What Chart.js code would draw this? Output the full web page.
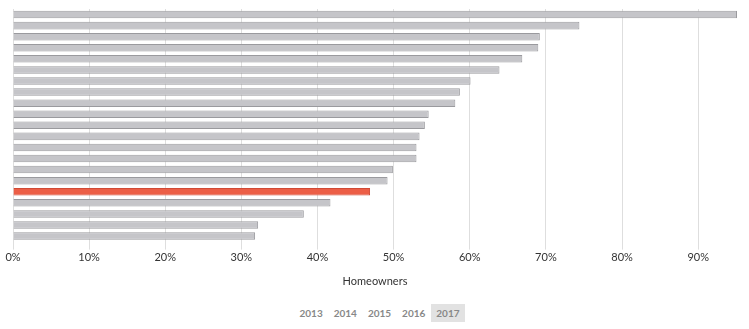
<!DOCTYPE html>
<html>
<head>
<meta charset="utf-8">
<script src="https://cdn.jsdelivr.net/npm/chart.js@4/dist/chart.umd.min.js"></script>
<style>
  body { margin: 0; background: #fff; font-family: Lato, "Open Sans", sans-serif; }
  #wrap { position: relative; width: 749px; height: 290px; }
  #years { position: absolute; left: 294px; top: 304px; font-size: 10px; font-weight: bold; color: #888; white-space: nowrap; }
  #years span { display: inline-block; padding: 0 5.5px; height: 18px; line-height: 18px; }
  #years span.on { background: #e2e2e2; }
</style>
</head>
<body>
<div id="wrap"><canvas id="chart"></canvas></div>
<div id="years"><span>2013</span><span>2014</span><span>2015</span><span>2016</span><span class="on">2017</span></div>
<script>
// categories aren't labelled in the picture, so generic names
var categories = ['Area 1', 'Area 2', 'Area 3', 'Area 4', 'Area 5', 'Area 6', 'Area 7',
  'Area 8', 'Area 9', 'Area 10', 'Area 11', 'Area 12', 'Area 13', 'Area 14',
  'Area 15', 'Area 16', 'Area 17', 'Area 18', 'Area 19', 'Area 20', 'Area 21'];
// share of homeowners, 2017 (%)
var homeowners = [95.1, 74.4, 69.2, 69.0, 66.9, 63.9, 60.1, 58.7, 58.1, 54.6, 54.1,
  53.4, 53.0, 53.0, 49.9, 49.2, 46.9, 41.7, 38.2, 32.2, 31.8];
var highlight = 16;
var xTicks = [0, 10, 20, 30, 40, 50, 60, 70, 80, 90];

var fills = homeowners.map(function(v, i) { return i === highlight ? '#ec5e46' : '#c5c5c9'; });
var borders = homeowners.map(function(v, i) { return i === highlight ? '#cf4a35' : '#9a9a9e'; });

var ctx = document.getElementById('chart').getContext('2d');
new Chart(ctx, {
  type: 'bar',
  data: {
    labels: categories,
    datasets: [{
      data: homeowners,
      backgroundColor: fills,
      borderColor: borders,
      borderWidth: 1,
      barPercentage: 0.68,
      categoryPercentage: 1
    }]
  },
  options: {
    indexAxis: 'y',
    responsive: true,
    maintainAspectRatio: false,
    animation: false,
    layout: { padding: { top: 9, right: 12, left: 13, bottom: 2 } },
    plugins: { legend: { display: false }, tooltip: { enabled: false } },
    scales: {
      y: { display: false },
      x: {
        min: 0,
        max: Math.max.apply(null, homeowners),
        afterBuildTicks: function(axis) {
          axis.ticks = xTicks.map(function(v) { return { value: v }; });
        },
        border: { display: false },
        grid: { color: '#dedede', lineWidth: 1, tickLength: 8 },
        ticks: {
          padding: 1,
          color: '#333',
          font: { family: 'Lato', size: 11 },
          callback: function(v) { return v + '%'; }
        },
        title: {
          display: true,
          text: 'Homeowners',
          color: '#333',
          font: { family: 'Lato', size: 11 },
          padding: { top: 10, bottom: 0 }
        }
      }
    }
  }
});
</script>
</body>
</html>
